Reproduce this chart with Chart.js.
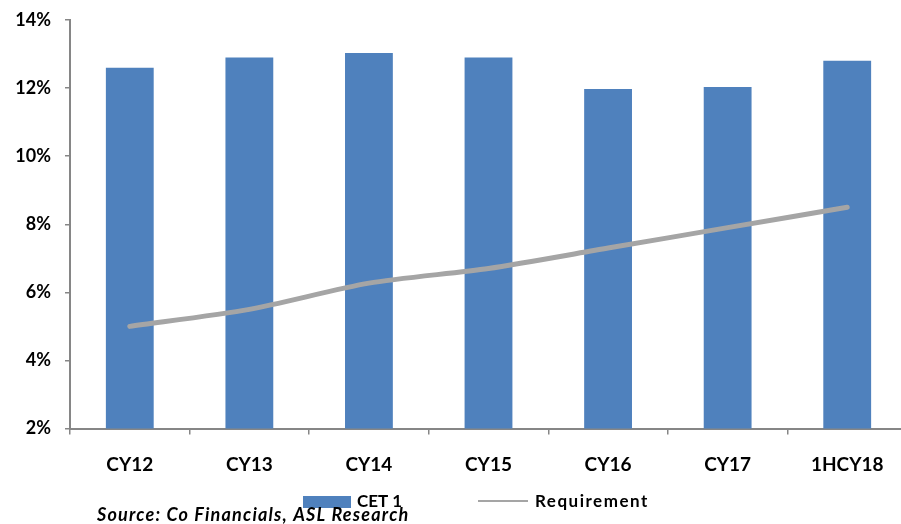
<!DOCTYPE html>
<html>
<head>
<meta charset="utf-8">
<script src="https://cdn.jsdelivr.net/npm/chart.js@4"></script>
<style>
    html, body { margin: 0; padding: 0; background: #fff; overflow: hidden; }
    #wrap { width: 907px; height: 524px; }
</style>
</head>
<body>
<div id="wrap"><canvas id="cet1Chart"></canvas></div>
<script>
const categories = ['CY12', 'CY13', 'CY14', 'CY15', 'CY16', 'CY17', '1HCY18'];
const cet1Values = [12.6, 12.9, 13.03, 12.9, 11.97, 12.03, 12.8];
const requirementValues = [5.0, 5.5, 6.27, 6.7, 7.3, 7.9, 8.5];
const yTicks = [2, 4, 6, 8, 10, 12, 14];
const sourceText = 'Source: Co Financials, ASL Research';

const FONT = 'Lato, "Open Sans", sans-serif';
const AXIS_COLOR = '#868686';

// legend + source line drawn at the foot of the canvas
const footerPlugin = {
    id: 'footer',
    afterDraw(chart) {
        const ctx = chart.ctx;
        const bars = chart.data.datasets[0];
        const line = chart.data.datasets[1];
        ctx.save();
        ctx.font = 'bold 17px ' + FONT;
        ctx.textBaseline = 'middle';

        ctx.fillStyle = bars.backgroundColor;
        ctx.fillRect(303, 496, 48, 12);
        ctx.fillStyle = '#000';
        ctx.fillText(bars.label, 357, 502);

        ctx.strokeStyle = line.borderColor;
        ctx.lineWidth = 2;
        ctx.beginPath();
        ctx.moveTo(478, 501);
        ctx.lineTo(528, 501);
        ctx.stroke();
        ctx.letterSpacing = '1.5px';
        ctx.fillText(line.label, 535, 502);

        ctx.font = 'italic bold 18px ' + FONT;
        ctx.letterSpacing = '1.2px';
        ctx.textBaseline = 'alphabetic';
        ctx.fillText(sourceText, 97, 521);
        ctx.restore();
    }
};

const ctx = document.getElementById('cet1Chart').getContext('2d');
new Chart(ctx, {
    type: 'bar',
    data: {
        labels: categories,
        datasets: [
            {
                label: 'CET 1',
                data: cet1Values,
                backgroundColor: '#4F81BD',
                categoryPercentage: 0.4,
                barPercentage: 1,
                order: 1,
            },
            {
                type: 'line',
                label: 'Requirement',
                data: requirementValues,
                borderColor: '#A5A5A5',
                borderWidth: 5,
                borderCapStyle: 'round',
                tension: 0.25,
                pointRadius: 0,
                order: 0,
            },
        ],
    },
    options: {
        responsive: true,
        maintainAspectRatio: false,
        animation: false,
        layout: { padding: { top: 20, left: 0, right: 0, bottom: 0 } },
        plugins: {
            legend: { display: false },
            tooltip: { enabled: false },
        },
        scales: {
            x: {
                afterFit: (scale) => { scale.height = 95.5; },
                grid: {
                    offset: true,
                    drawOnChartArea: false,
                    drawTicks: true,
                    tickLength: 6,
                    color: AXIS_COLOR,
                    lineWidth: 1.5,
                },
                border: { color: AXIS_COLOR, width: 2 },
                ticks: {
                    color: '#000',
                    padding: 19,
                    font: { family: FONT, size: 19, weight: 'bold' },
                },
            },
            y: {
                min: 2,
                max: 14,
                afterFit: (scale) => {
                    scale.width = 70;
                    scale.paddingTop = 0;
                    scale.paddingBottom = 0;
                },
                afterBuildTicks: (scale) => { scale.ticks = yTicks.map(v => ({ value: v })); },
                grid: {
                    drawOnChartArea: false,
                    drawTicks: true,
                    tickLength: 5,
                    color: AXIS_COLOR,
                    lineWidth: 1.5,
                },
                border: { color: AXIS_COLOR, width: 2 },
                ticks: {
                    color: '#000',
                    padding: 14,
                    callback: (v) => v + '%',
                    font: { family: FONT, size: 18, weight: 'bold' },
                },
            },
        },
    },
    plugins: [footerPlugin],
});
</script>
</body>
</html>
